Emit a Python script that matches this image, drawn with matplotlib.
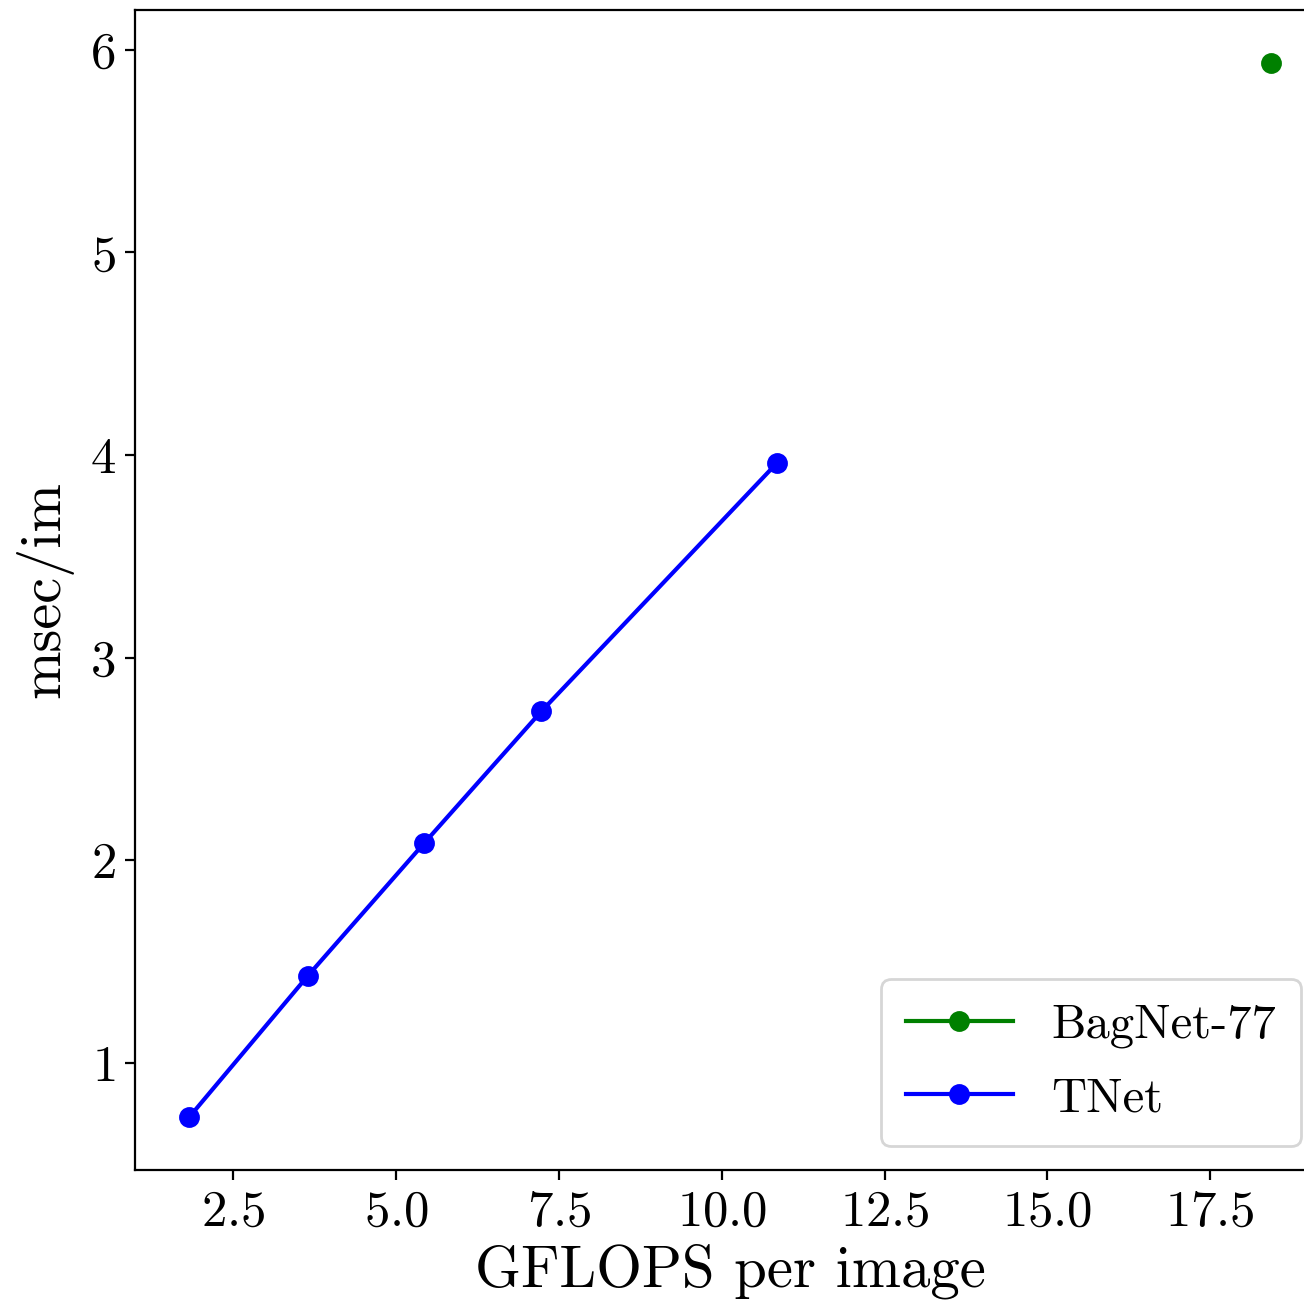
import matplotlib
matplotlib.use('Agg')
import matplotlib.pyplot as plt
from matplotlib.ticker import MultipleLocator

plt.rcParams['font.family'] = 'serif'
plt.rcParams['font.serif'] = ['cmr10']
plt.rcParams['mathtext.fontset'] = 'cm'
plt.rcParams['axes.formatter.use_mathtext'] = True

# data
bagnet_gflops = [18.43]
bagnet_msec = [5.936]
tnet_gflops = [1.82, 3.64, 5.43, 7.23, 10.84]
tnet_msec = [0.732, 1.429, 2.085, 2.736, 3.959]

fig = plt.figure(figsize=(6.52, 6.525), dpi=200)
# axes run past the right edge, as in the cropped original
ax = fig.add_axes([0.1035, 0.1034, 0.9126, 0.8889])

ax.plot(bagnet_gflops, bagnet_msec, 'o-', color='green', label='BagNet-77', markersize=6.5)
ax.plot(tnet_gflops, tnet_msec, 'o-', color='blue', label='TNet', markersize=6.5)

ax.xaxis.set_major_locator(MultipleLocator(2.5))
ax.set_xlabel('GFLOPS per image', fontsize=21.2, labelpad=3)
ax.set_ylabel('msec/im', fontsize=21, labelpad=6)
ax.tick_params(labelsize=18.3)
ax.legend(loc='lower right', fontsize=17.5, handlelength=2.2,
          labelspacing=0.6, borderpad=0.5)

fig.savefig('out.png', dpi=200)
